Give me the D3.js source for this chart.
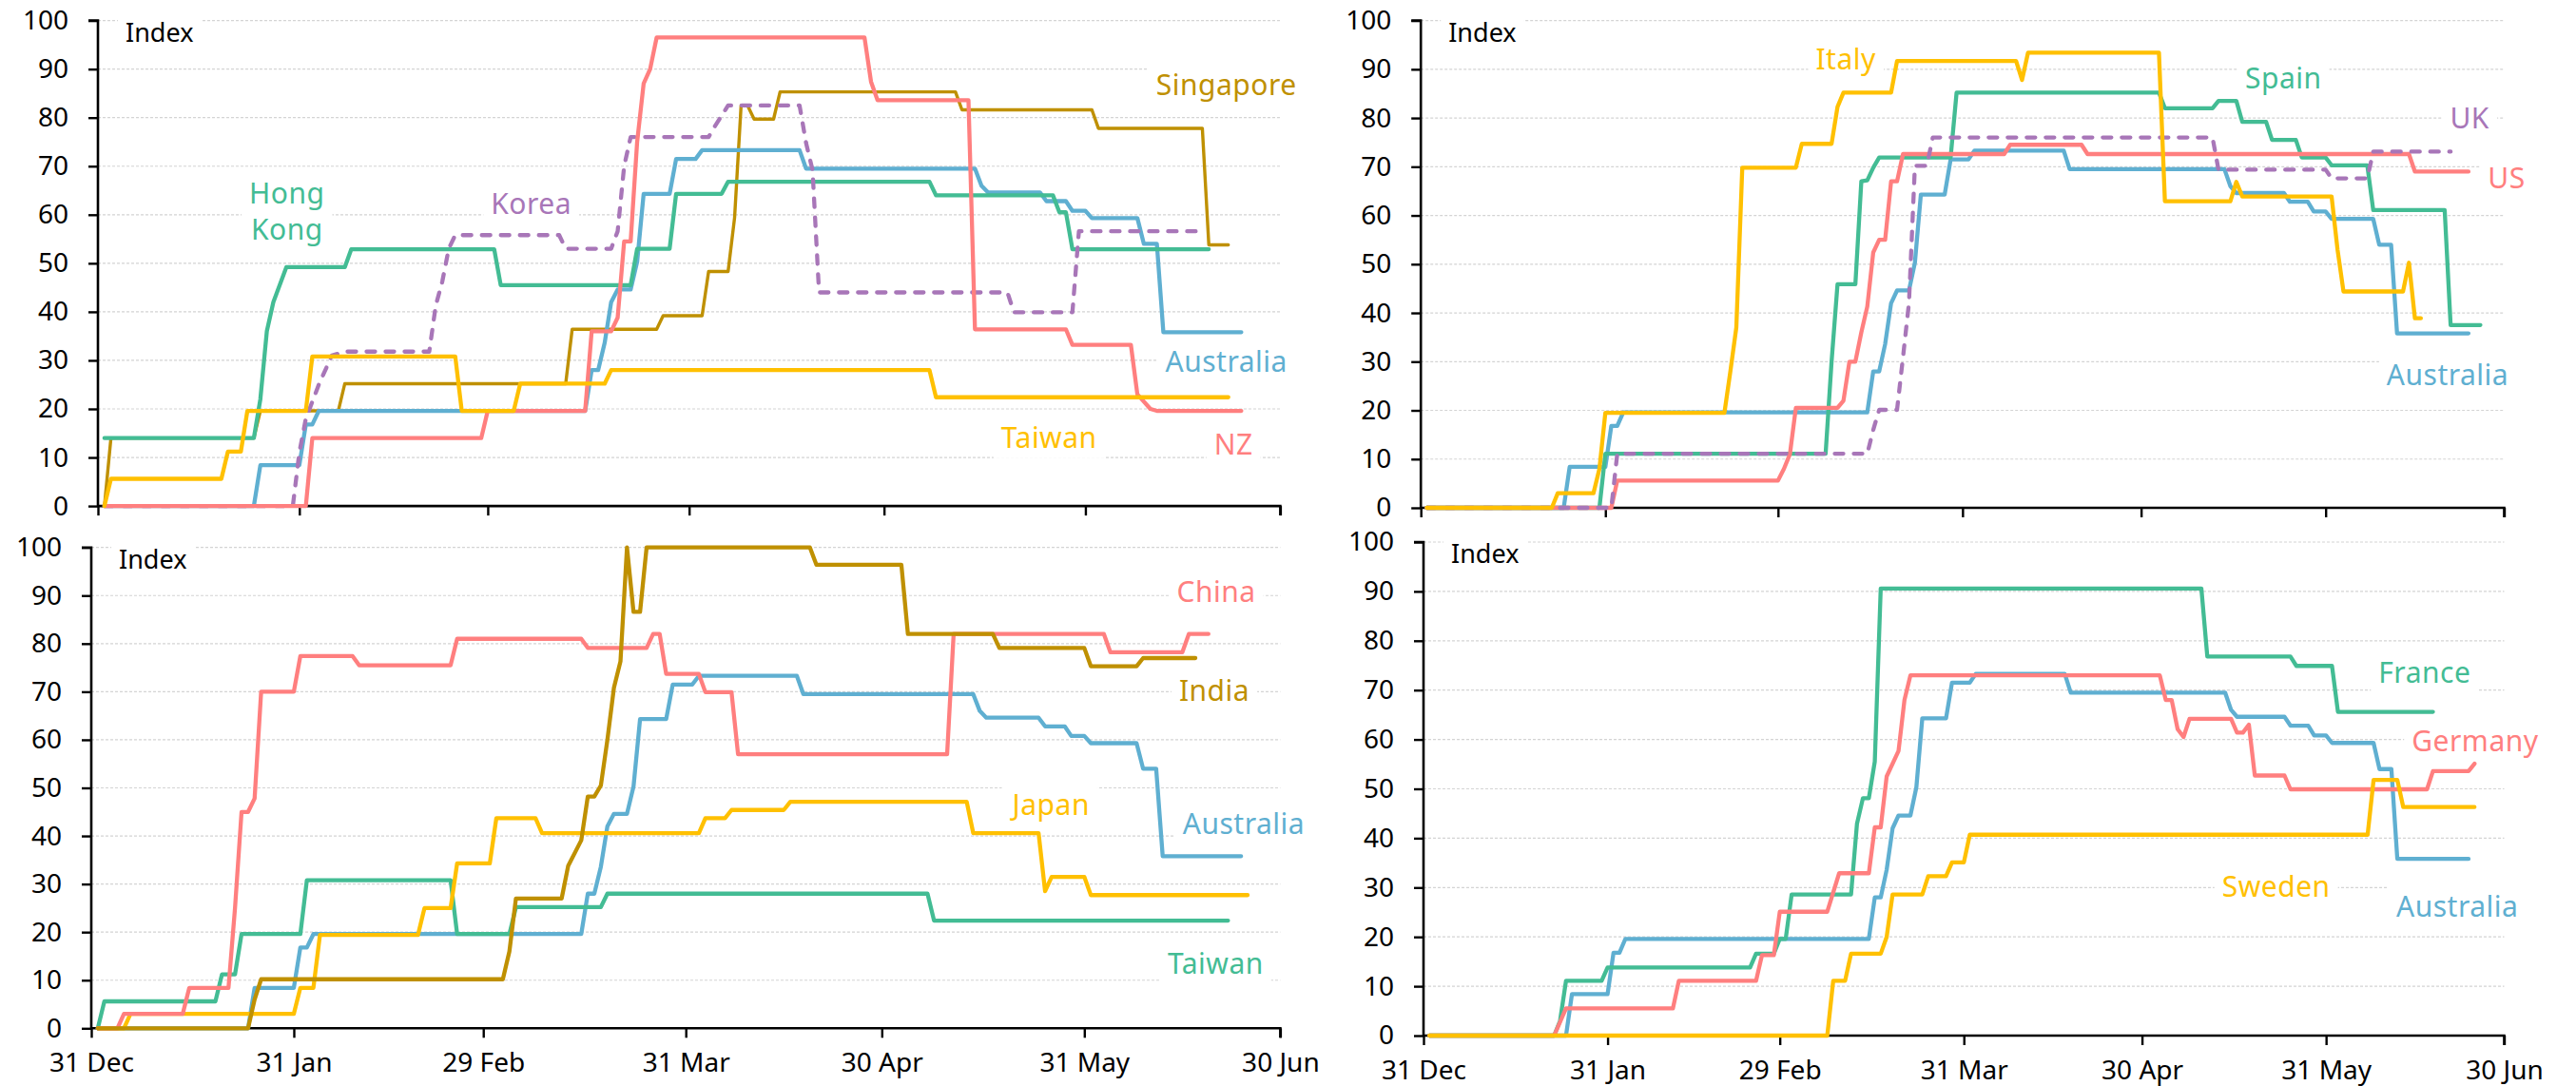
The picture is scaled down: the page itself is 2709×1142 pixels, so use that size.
<!DOCTYPE html>
<html>
<head>
<meta charset="utf-8">
<script src="https://cdn.jsdelivr.net/npm/d3@7"></script>
<style>
  html, body { margin: 0; padding: 0; background: #fff; }
  svg { display: block; }
  text { font-family: "Noto Sans", "DejaVu Sans", sans-serif; }
</style>
</head>
<body>
<svg id="chart" width="2709" height="1142"></svg>
<script>
// ---------- Data (day offset from 31 Dec 2019, index value) ----------
const tickDays = [0, 31, 60, 91, 121, 152, 182];
const tickLabels = ["31 Dec", "31 Jan", "29 Feb", "31 Mar", "30 Apr", "31 May", "30 Jun"];
const yTicks = [0, 10, 20, 30, 40, 50, 60, 70, 80, 90, 100];

const australia = [[1,0],[24,0],[25,8.4],[31,8.4],[32,16.8],[33,16.8],[34,19.6],[75,19.6],[76,28],[77,28],[78,33.6],[79,42],[80,44.6],[82,44.6],[83,50.3],[84,64.3],[88,64.3],[89,71.5],[92,71.5],[93,73.3],[108,73.3],[109,69.5],[135,69.5],[136,66],[137,64.6],[145,64.6],[146,62.8],[149,62.8],[150,60.8],[152,60.8],[153,59.3],[160,59.3],[161,54],[163,54],[164,35.8],[176,35.8]];

const hongKong = [[1,14],[24,14],[25,22],[26,36],[27,42],[29,49.2],[38,49.2],[39,52.9],[61,52.9],[62,45.5],[82,45.5],[83,53],[88,53],[89,64.3],[96,64.3],[97,66.8],[128,66.8],[129,64],[147,64],[148,60.5],[149,60.5],[150,52.9],[171,52.9]];

const newZealand = [[1,0],[32,0],[33,14],[59,14],[60,19.6],[75,19.6],[76,36],[79,36],[80,38.8],[81,54.5],[82,54.5],[83,75],[84,87],[85,90],[86,96.5],[118,96.5],[119,87.4],[120,83.6],[134,83.6],[135,36.4],[149,36.4],[150,33.2],[159,33.2],[160,23],[162,20],[163,19.6],[176,19.6]];

const taiwan = [[1,0],[2,5.6],[19,5.6],[20,11.2],[22,11.2],[23,19.6],[32,19.6],[33,30.8],[55,30.8],[56,19.6],[64,19.6],[65,25.2],[78,25.2],[79,28],[128,28],[129,22.4],[174,22.4]];

const singapore = [[1,0],[2,14],[24,14],[25,19.6],[37,19.6],[38,25.2],[72,25.2],[73,36.4],[86,36.4],[87,39.2],[93,39.2],[94,48.3],[97,48.3],[98,59.4],[99,82.5],[100,82.5],[101,79.7],[104,79.7],[105,85.3],[132,85.3],[133,81.6],[153,81.6],[154,77.8],[170,77.8],[171,53.8],[174,53.8]];

const korea = [[1,0],[30,0],[31,11],[32,18],[34,25],[36,31],[38,31.8],[51,31.8],[52,41.3],[53,46.2],[54,53],[55,55.8],[71,55.8],[72,53],[79,53],[80,56.6],[81,70],[82,76],[94,76],[95,78.3],[97,82.5],[108,82.5],[109,74.8],[110,69.2],[111,44],[140,44],[141,39.9],[150,39.9],[151,56.6],[170,56.6]];

const italy = [[1,0],[22,0],[23,3],[29,3],[30,8],[31,19.5],[51,19.5],[52,28],[53,37],[54,69.8],[63,69.8],[64,74.7],[69,74.7],[70,82.3],[71,85.2],[79,85.2],[80,91.7],[100,91.7],[101,87.8],[102,93.4],[124,93.4],[125,62.9],[136,62.9],[137,66.9],[138,63.9],[153,63.9],[154,53],[155,44.4],[165,44.4],[166,50.3],[167,38.9],[168,38.9]];

const spain = [[1,0],[30,0],[31,11.1],[68,11.1],[69,30],[70,45.9],[73,45.9],[74,67],[75,67.2],[76,69.8],[77,71.9],[89,71.9],[90,85.2],[124,85.2],[125,82],[133,82],[134,83.5],[137,83.5],[138,79.2],[142,79.2],[143,75.5],[147,75.5],[148,71.9],[152,71.9],[153,70.3],[159,70.3],[160,61.1],[172,61.1],[173,37.5],[178,37.5]];

const unitedStates = [[1,0],[32,0],[33,5.6],[60,5.6],[61,8],[62,11],[63,20.5],[70,20.5],[71,22],[72,30],[73,30],[74,36],[75,41.3],[76,52.4],[77,55],[78,55],[79,67],[80,67],[81,72.6],[98,72.6],[99,74.5],[111,74.5],[112,72.6],[166,72.6],[167,69],[176,69]];

const unitedKingdom = [[1,0],[32,0],[33,11.1],[75,11.1],[76,16],[77,20.1],[80,20.1],[81,30.9],[82,42],[83,70.2],[85,70.2],[86,76],[133,76],[134,69.4],[152,69.4],[153,67.6],[159,67.6],[160,73.1],[173,73.1]];

const china = [[1,0],[4,0],[5,3],[14,3],[15,8.4],[21,8.4],[22,25],[23,45],[24,45],[25,47.8],[26,70],[31,70],[32,77.4],[40,77.4],[41,75.5],[55,75.5],[56,81],[75,81],[76,79.1],[85,79.1],[86,82],[87,82],[88,73.7],[93,73.7],[94,69.9],[98,69.9],[99,57],[131,57],[132,82],[155,82],[156,78.2],[167,78.2],[168,82],[171,82]];

const india = [[1,0],[24,0],[25,6],[26,10.2],[63,10.2],[64,16],[65,27],[72,27],[73,33.8],[75,39.1],[76,48.2],[77,48.2],[78,50.5],[79,60],[80,70.8],[81,76.3],[82,100],[83,86.6],[84,86.6],[85,100],[110,100],[111,96.4],[124,96.4],[125,82],[138,82],[139,79.1],[152,79.1],[153,75.3],[160,75.3],[161,77],[169,77]];

const japan = [[1,0],[5,0],[6,3],[31,3],[32,8.4],[34,8.4],[35,19.4],[50,19.4],[51,25],[55,25],[56,34.3],[61,34.3],[62,43.7],[68,43.7],[69,40.6],[93,40.6],[94,43.7],[97,43.7],[98,45.4],[106,45.4],[107,47.1],[134,47.1],[135,40.6],[145,40.6],[146,28.5],[147,31.5],[152,31.5],[153,27.7],[177,27.7]];

const france = [[1,0],[22,0],[23,3],[24,11.1],[30,11.1],[31,13.8],[55,13.8],[56,16.6],[59,16.6],[60,19.6],[61,19.6],[62,28.6],[72,28.6],[73,42.9],[74,48.1],[75,48.1],[76,55.5],[77,90.6],[131,90.6],[132,76.8],[146,76.8],[147,74.9],[153,74.9],[154,65.6],[170,65.6]];

const germany = [[1,0],[22,0],[24,5.5],[42,5.5],[43,11.1],[56,11.1],[57,16.3],[59,16.3],[60,25.1],[68,25.1],[70,32.9],[75,32.9],[76,42.2],[77,42.2],[78,52.5],[80,57.7],[81,68],[82,73],[124,73],[125,68],[126,68],[127,62.1],[128,60.5],[129,64.2],[136,64.2],[137,61.4],[138,61.4],[139,63],[140,52.7],[145,52.7],[146,49.9],[169,49.9],[170,53.6],[176,53.6],[177,55.1]];

const sweden = [[1,0],[68,0],[69,11.1],[71,11.1],[72,16.6],[77,16.6],[78,20],[79,28.6],[84,28.6],[85,32.3],[88,32.3],[89,35.1],[91,35.1],[92,40.7],[159,40.7],[160,51.8],[164,51.8],[165,46.3],[177,46.3]];

// ---------- Styles ----------
const C = {
  pink: "#FF7F7F", blue: "#5FAFD1", green: "#43BC94",
  yellow: "#FFC000", gold: "#BF9000", purple: "#A876B8"
};
const tickFont = '"Liberation Sans", Arial, sans-serif';

const panels = [
  { x0: 103, x1: 1346.4, y0: 532.1, y1: 21.6, xLabels: false,
    series: [
      { d: singapore, c: C.gold, w: 3.4 },
      { d: australia, c: C.blue },
      { d: hongKong, c: C.green },
      { d: korea, c: C.purple, dash: true },
      { d: newZealand, c: C.pink },
      { d: taiwan, c: C.yellow }
    ],
    labels: [
      { t: ["Hong", "Kong"], day: 29.1, v: 62.3, c: C.green },
      { t: ["Korea"], day: 66.7, v: 60.1, c: C.purple },
      { t: ["Singapore"], day: 173.7, v: 84.6, c: C.gold },
      { t: ["Australia"], day: 173.7, v: 27.6, c: C.blue },
      { t: ["Taiwan"], day: 146.4, v: 12.0, c: C.yellow },
      { t: ["NZ"], day: 174.8, v: 10.6, c: C.pink }
    ] },
  { x0: 1494.2, x1: 2633.5, y0: 534, y1: 21.6, xLabels: false,
    series: [
      { d: australia, c: C.blue },
      { d: spain, c: C.green },
      { d: unitedStates, c: C.pink },
      { d: unitedKingdom, c: C.purple, dash: true },
      { d: italy, c: C.yellow }
    ],
    labels: [
      { t: ["Italy"], day: 71.4, v: 90.0, c: C.yellow },
      { t: ["Spain"], day: 144.9, v: 86.1, c: C.green },
      { t: ["UK"], day: 176.2, v: 77.8, c: C.purple },
      { t: ["US"], day: 182.4, v: 65.5, c: C.pink },
      { t: ["Australia"], day: 172.5, v: 25.1, c: C.blue }
    ] },
  { x0: 96, x1: 1346.4, y0: 1081.3, y1: 575.7, xLabels: true,
    series: [
      { d: australia, c: C.blue },
      { d: taiwan, c: C.green },
      { d: japan, c: C.yellow },
      { d: china, c: C.pink },
      { d: india, c: C.gold }
    ],
    labels: [
      { t: ["China"], day: 172.2, v: 88.7, c: C.pink },
      { t: ["India"], day: 171.9, v: 68.1, c: C.gold },
      { t: ["Japan"], day: 146.9, v: 44.4, c: C.yellow },
      { t: ["Australia"], day: 176.4, v: 40.4, c: C.blue },
      { t: ["Taiwan"], day: 172.1, v: 11.3, c: C.green }
    ] },
  { x0: 1497, x1: 2633.5, y0: 1089, y1: 570, xLabels: true,
    series: [
      { d: australia, c: C.blue },
      { d: france, c: C.green },
      { d: germany, c: C.pink },
      { d: sweden, c: C.yellow }
    ],
    labels: [
      { t: ["France"], day: 168.6, v: 71.5, c: C.green },
      { t: ["Germany"], day: 177.1, v: 57.6, c: C.pink },
      { t: ["Sweden"], day: 143.6, v: 28.1, c: C.yellow },
      { t: ["Australia"], day: 174.1, v: 24.1, c: C.blue }
    ] }
];

const svg = d3.select("#chart");
svg.append("rect").attr("width", 2709).attr("height", 1142).attr("fill", "#fff");

panels.forEach(p => {
  const x = d3.scaleLinear().domain([0, 182]).range([p.x0, p.x1]);
  const y = d3.scaleLinear().domain([0, 100]).range([p.y0, p.y1]);
  const g = svg.append("g");

  // gridlines
  g.append("g").selectAll("line").data(yTicks.filter(t => t > 0)).join("line")
    .attr("x1", x(0)).attr("x2", x(182))
    .attr("y1", d => y(d)).attr("y2", d => y(d))
    .attr("stroke", "#d4d4d4").attr("stroke-width", 1.2)
    .attr("stroke-dasharray", "3,2");

  // label background boxes (hide gridlines behind text)
  const bgLayer = g.append("g");

  // y axis
  const yAxis = d3.axisLeft(y).tickValues(yTicks).tickSize(10).tickPadding(21)
    .tickFormat(d3.format("d"));
  const ya = g.append("g").attr("transform", `translate(${x(0)},0)`).call(yAxis);
  ya.select(".domain").attr("stroke", "#000").attr("stroke-width", 2.6)
    .attr("d", `M-10,${y(100)}H0V${y(0)}`);
  ya.selectAll(".tick line").attr("stroke", "#000").attr("stroke-width", 2.4);
  ya.selectAll(".tick text").attr("font-size", 28).attr("fill", "#000")
    .attr("font-family", tickFont);

  // x axis
  const xAxis = d3.axisBottom(x).tickValues(tickDays).tickSize(10).tickPadding(16)
    .tickFormat((d, i) => p.xLabels ? tickLabels[i] : "");
  const xa = g.append("g").attr("transform", `translate(0,${y(0)})`).call(xAxis);
  xa.select(".domain").attr("stroke", "#000").attr("stroke-width", 2.6)
    .attr("d", `M${x(0)},0H${x(182)}V10`);
  xa.selectAll(".tick line").attr("stroke", "#000").attr("stroke-width", 2.4);
  xa.selectAll(".tick text").attr("font-size", 28).attr("fill", "#000")
    .attr("font-family", tickFont);

  // lines
  const line = d3.line().x(d => x(d[0])).y(d => y(d[1]));
  g.append("g").selectAll("path").data(p.series).join("path")
    .attr("d", s => line(s.d))
    .attr("fill", "none")
    .attr("stroke", s => s.c)
    .attr("stroke-width", s => s.w || 4.3)
    .attr("stroke-linejoin", "round")
    .attr("stroke-linecap", "round")
    .attr("stroke-dasharray", s => s.dash ? "9,11" : null);

  // "Index" label
  const idx = g.append("text").attr("x", x(0) + 29).attr("y", y(100) + 22)
    .attr("font-size", 27).attr("fill", "#000").text("Index");

  // series labels
  const texts = [idx];
  p.labels.forEach(l => {
    const t = g.append("text")
      .attr("x", x(l.day)).attr("y", y(l.v))
      .attr("text-anchor", "middle")
      .attr("font-size", 30).attr("fill", l.c)
      .attr("letter-spacing", 0.5);
    l.t.forEach((line, i) => {
      t.append("tspan").attr("x", x(l.day)).attr("dy", i === 0 ? 0 : 38).text(line);
    });
    texts.push(t);
  });

  texts.forEach(t => {
    const b = t.node().getBBox();
    bgLayer.append("rect")
      .attr("x", b.x - 8).attr("y", b.y - 2)
      .attr("width", b.width + 16).attr("height", b.height + 4)
      .attr("fill", "#fff");
  });
});
</script>
</body>
</html>
